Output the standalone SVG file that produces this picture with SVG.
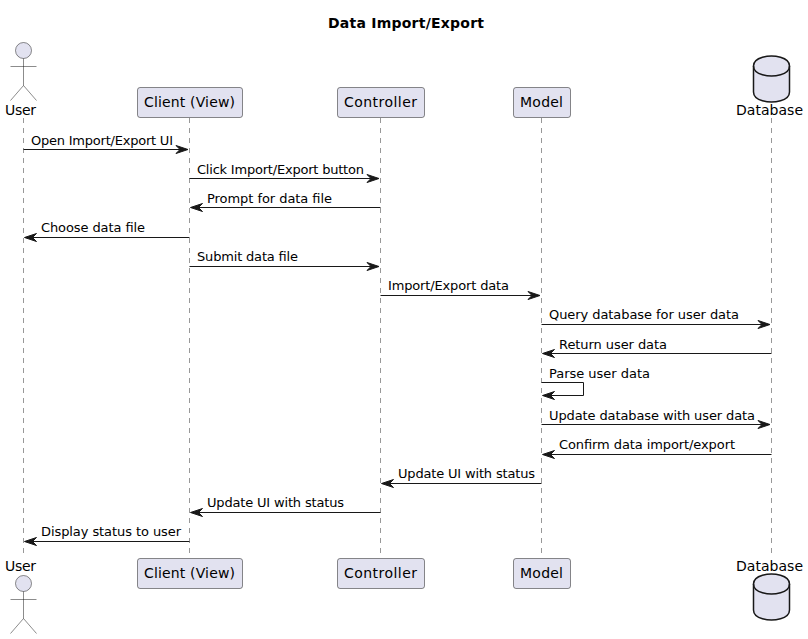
<svg xmlns="http://www.w3.org/2000/svg" width="808" height="639" viewBox="0 0 808 639">
<style>
text{font-family:"DejaVu Sans",sans-serif;fill:#000}
.t{font-size:14px;font-weight:bold}
.p{font-size:14px}
.m{font-size:13px}
.life{stroke:#181818;stroke-opacity:.75;stroke-width:.6;stroke-dasharray:5,5;fill:none}
.box{fill:#E2E2F0;stroke:#181818;stroke-width:.5}
.act{fill:#E2E2F0;stroke:#181818;stroke-width:.5}
.db{fill:#E2E2F0;stroke:#181818;stroke-width:1.5}
.c{stroke:#181818;stroke-width:1;fill:none}
.h{fill:#181818;stroke:#181818;stroke-width:1}
</style>
<defs>
<g id="actor"><circle cx="0" cy="8" r="8"/><path d="M0 16V43M-13 24H13M0 43L-13 58M0 43L13 58" fill="none"/></g>
<g id="cyl"><path d="M-18 10C-18 0 0 0 0 0C0 0 18 0 18 10V36C18 46 0 46 0 46C0 46 -18 46 -18 36Z"/><path d="M-18 10C-18 20 0 20 0 20C0 20 18 20 18 10" fill="none"/></g>
<polygon id="ar" points="-12,-4 0,0 -12,4 -8,0"/>
<polygon id="al" points="12,-4 0,0 12,4 8,0"/>
</defs>
<text class="t" x="328" y="28" textLength="156">Data Import/Export</text>
<g id="lifelines">
<path class="life" d="M23.5 118V558M189.5 118V558M380.5 118V558M541.5 118V558M771.5 118V558"/>
</g>
<g id="user-top"><use href="#actor" class="act" x="23.5" y="42.5"/><text class="p" x="5" y="115" textLength="31">User</text></g>
<g id="client-top"><rect class="box" x="137.5" y="87.5" width="105" height="30" rx="2.5"/><text class="p" x="144" y="107" textLength="91">Client (View)</text></g>
<g id="controller-top"><rect class="box" x="337.5" y="87.5" width="87" height="30" rx="2.5"/><text class="p" x="344" y="107" textLength="73">Controller</text></g>
<g id="model-top"><rect class="box" x="513.5" y="87.5" width="57" height="30" rx="2.5"/><text class="p" x="520" y="107" textLength="43">Model</text></g>
<g id="database-top"><use href="#cyl" class="db" x="771.5" y="56"/><text class="p" x="736" y="115" textLength="67">Database</text></g>
<g id="user-bottom"><text class="p" x="5" y="571" textLength="31">User</text><use href="#actor" class="act" x="23.5" y="575.5"/></g>
<g id="client-bottom"><rect class="box" x="137.5" y="558.5" width="105" height="30" rx="2.5"/><text class="p" x="144" y="578" textLength="91">Client (View)</text></g>
<g id="controller-bottom"><rect class="box" x="337.5" y="558.5" width="87" height="30" rx="2.5"/><text class="p" x="344" y="578" textLength="73">Controller</text></g>
<g id="model-bottom"><rect class="box" x="513.5" y="558.5" width="57" height="30" rx="2.5"/><text class="p" x="520" y="578" textLength="43">Model</text></g>
<g id="database-bottom"><text class="p" x="736" y="571" textLength="67">Database</text><use href="#cyl" class="db" x="771.5" y="574"/></g>
<g id="connectors">
<path class="c" d="M23.5 149.5H187M189.5 178.5H378M191 207.5H380.5M25 237.5H189.5M189.5 266.5H378M380.5 295.5H539M541.5 324.5H769M543 353.5H771.5M541.5 382.5H583.5V395.5H543M541.5 424.5H769M543 454.5H771.5M382 483.5H541.5M191 512.5H380.5M25 541.5H189.5"/>
<use href="#ar" class="h" x="188" y="149.5"/>
<use href="#ar" class="h" x="379" y="178.5"/>
<use href="#al" class="h" x="190.5" y="207.5"/>
<use href="#al" class="h" x="24.5" y="237.5"/>
<use href="#ar" class="h" x="379" y="266.5"/>
<use href="#ar" class="h" x="540" y="295.5"/>
<use href="#ar" class="h" x="770" y="324.5"/>
<use href="#al" class="h" x="542.5" y="353.5"/>
<use href="#al" class="h" x="542.5" y="395.5"/>
<use href="#ar" class="h" x="770" y="424.5"/>
<use href="#al" class="h" x="542.5" y="454.5"/>
<use href="#al" class="h" x="381.5" y="483.5"/>
<use href="#al" class="h" x="190.5" y="512.5"/>
<use href="#al" class="h" x="24.5" y="541.5"/>
<text class="m" x="31" y="145" textLength="142">Open Import/Export UI</text>
<text class="m" x="197" y="174" textLength="167">Click Import/Export button</text>
<text class="m" x="207" y="203" textLength="125">Prompt for data file</text>
<text class="m" x="41" y="232" textLength="104">Choose data file</text>
<text class="m" x="197" y="261" textLength="101">Submit data file</text>
<text class="m" x="388" y="290" textLength="121">Import/Export data</text>
<text class="m" x="549" y="319" textLength="190">Query database for user data</text>
<text class="m" x="559" y="349" textLength="108">Return user data</text>
<text class="m" x="549" y="378" textLength="101">Parse user data</text>
<text class="m" x="549" y="420" textLength="206">Update database with user data</text>
<text class="m" x="559" y="449" textLength="176">Confirm data import/export</text>
<text class="m" x="398" y="478" textLength="137">Update UI with status</text>
<text class="m" x="207" y="507" textLength="137">Update UI with status</text>
<text class="m" x="41" y="536" textLength="140">Display status to user</text>
</g>
</svg>
